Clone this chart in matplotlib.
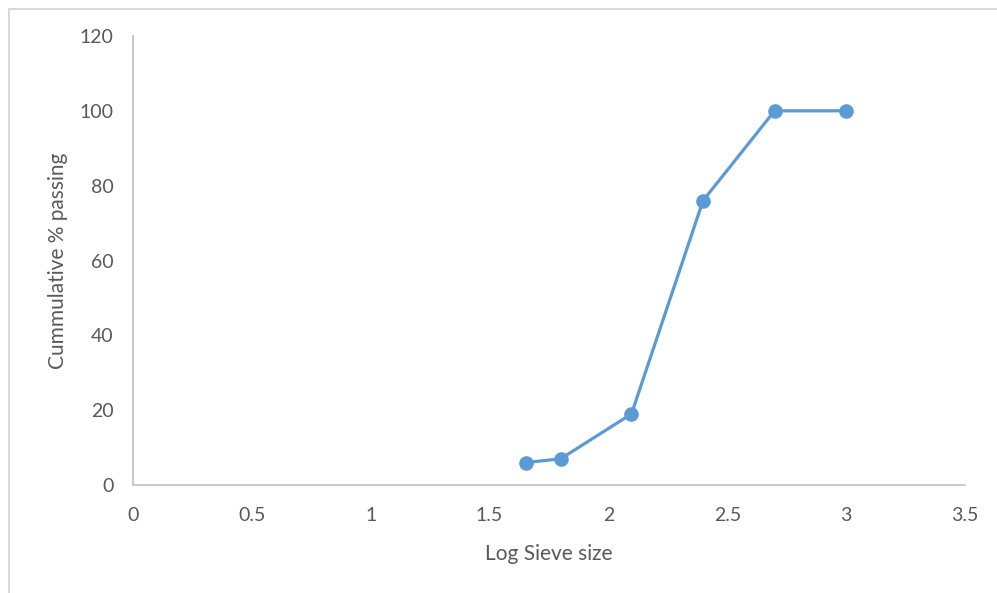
import matplotlib
matplotlib.use("Agg")
import matplotlib.pyplot as plt
from matplotlib.lines import Line2D

plt.rcParams['font.family'] = ['Lato', 'DejaVu Sans']

log_sieve = [1.653, 1.799, 2.097, 2.398, 2.699, 3.0]
cum_passing = [6, 7, 19, 76, 100, 100]
x_ticks = [0, 0.5, 1, 1.5, 2, 2.5, 3, 3.5]
x_tick_labels = ['0', '0.5', '1', '1.5', '2', '2.5', '3', '3.5']
y_ticks = [0, 20, 40, 60, 80, 100, 120]

fig = plt.figure(figsize=(9.97, 5.93), dpi=100)
ax = fig.add_axes([133/997, 1-485/593, (965-133)/997, (485-36)/593])

ax.plot(log_sieve, cum_passing, color='#5B9BD5', linewidth=2.3,
        marker='o', markersize=9.5, markerfacecolor='#5B9BD5', markeredgecolor='#5B9BD5')

ax.set_xlim(0, 3.5)
ax.set_ylim(0, 120)
ax.set_xticks(x_ticks)
ax.set_xticklabels(x_tick_labels)
ax.set_yticks(y_ticks)
ax.tick_params(length=0, labelsize=14, labelcolor='#595959')
ax.tick_params(axis='x', pad=16)
ax.tick_params(axis='y', pad=14)
for s in ['top', 'right']:
    ax.spines[s].set_visible(False)
for s in ['left', 'bottom']:
    ax.spines[s].set_color('#BFBFBF')
    ax.spines[s].set_linewidth(1.2)

ax.set_xlabel('Log Sieve size', fontsize=15, color='#595959', labelpad=14)
ax.set_ylabel('Cummulative % passing', fontsize=15, color='#595959', labelpad=8)

# partial outer chart frame (top and left edges visible)
fig.add_artist(Line2D([8.5/997, 1.0], [1-8.5/593, 1-8.5/593], transform=fig.transFigure,
                      color='#D9D9D9', linewidth=1.5))
fig.add_artist(Line2D([8.5/997, 8.5/997], [0.0, 1-8.5/593], transform=fig.transFigure,
                      color='#D9D9D9', linewidth=1.5))

fig.savefig('out.png', dpi=100)
